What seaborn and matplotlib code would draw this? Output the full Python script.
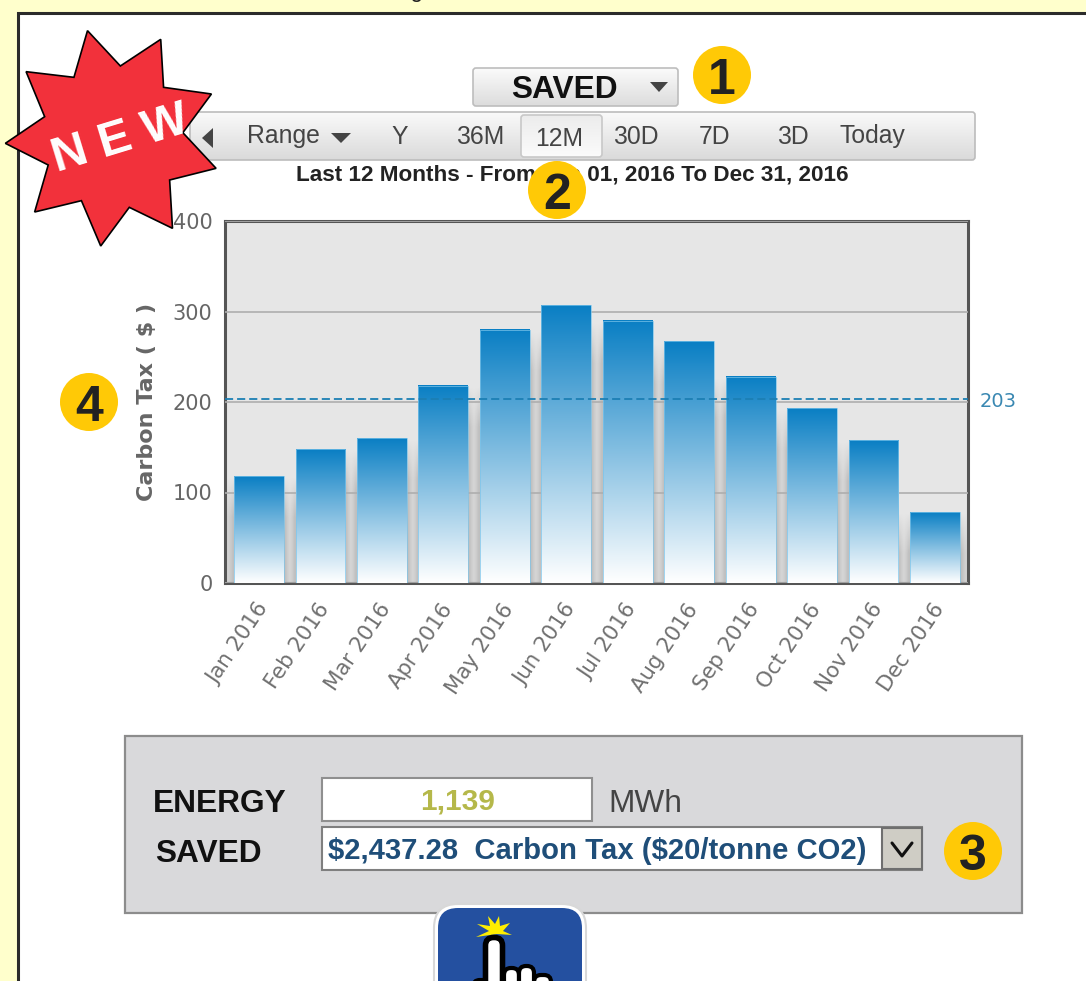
import numpy as np
import pandas as pd
import matplotlib
matplotlib.use("Agg")
import matplotlib.pyplot as plt
from matplotlib.colors import to_rgb
from matplotlib.patches import Circle, FancyBboxPatch, Polygon, Rectangle
from matplotlib.transforms import ScaledTranslation
import seaborn as sns

months = ["Jan 2016", "Feb 2016", "Mar 2016", "Apr 2016", "May 2016", "Jun 2016",
          "Jul 2016", "Aug 2016", "Sep 2016", "Oct 2016", "Nov 2016", "Dec 2016"]
carbon_tax = [118, 148, 160, 218, 280, 307, 290, 267, 228, 193, 158, 78]
average_tax = 203
y_ticks = [0, 100, 200, 300, 400]
range_buttons = ["Y", "36M", "12M", "30D", "7D", "3D", "Today"]

W, H = 1086, 981
sans = ["Liberation Sans", "DejaVu Sans"]
sns.set_theme(style="white")
plt.rcParams["font.family"] = ["DejaVu Sans"]

fig = plt.figure(figsize=(W / 100, H / 100), dpi=100, facecolor="#ffffcc")


def overlay(z):
    a = fig.add_axes([0, 0, 1, 1], zorder=z)
    a.set_xlim(0, W)
    a.set_ylim(H, 0)
    a.axis("off")
    a.set_autoscale_on(False)
    a.patch.set_alpha(0)
    return a


bg = overlay(0)
fg = overlay(2)


def vgrad(top, bottom, n=128):
    t, b = np.array(to_rgb(top)), np.array(to_rgb(bottom))
    f = np.linspace(0, 1, n)[:, None, None]
    return (1 - f) * t[None, None, :] + f * b[None, None, :]


def grad_box(a, x0, y0, x1, y1, top, bottom, edge, lw=1.2, r=3, z=2):
    p = FancyBboxPatch((x0, y0), x1 - x0, y1 - y0, boxstyle=f"round,pad=0,rounding_size={r}",
                       fc="none", ec=edge, lw=lw, zorder=z + 0.1)
    a.add_patch(p)
    im = a.imshow(vgrad(top, bottom), extent=(x0, x1, y1, y0), aspect="auto", zorder=z,
                  interpolation="bilinear")
    im.set_clip_path(p)


def gap_shadow(h):
    depth = np.linspace(0, h, 64)
    ramp = np.minimum(1, depth / 45)[:, None]
    img = np.zeros((64, 5, 4))
    img[:, :, 3] = ramp * np.array([0.17, 0.11, 0.07, 0.11, 0.17])
    return img


# page frame
bg.add_patch(Rectangle((17.5, 12.5), W, H, fc="white", ec="#2b2b2b", lw=2.2, zorder=1))
bg.text(50, -3, "Reference for Carbon Market Savings calculated", fontsize=16.5, family=sans,
        color="#222222", ha="left", va="baseline", zorder=1, clip_on=False)

# dropdown and toolbar
grad_box(bg, 473, 68, 678, 106, "#fbfbfb", "#dcdcdc", "#bdbdbd")
bg.text(564, 87, "SAVED", fontsize=22.8, fontweight="bold", family=sans, color="#111111",
        ha="center", va="center_baseline", zorder=3)
bg.add_patch(Polygon([(650, 82), (668, 82), (659, 92)], fc="#444444", ec="none", zorder=3))
grad_box(bg, 190, 112, 975, 160, "#fafafa", "#dadada", "#bcbcbc")
grad_box(bg, 521, 115, 602, 157, "#ececec", "#fbfbfb", "#c8c8c8", z=3)
bg.add_patch(Polygon([(213, 128), (213, 148), (202, 138)], fc="#444444", ec="none", zorder=3))
bg.text(247, 134, "Range", fontsize=17.8, family=sans, color="#444444", ha="left",
        va="center_baseline", zorder=4)
bg.add_patch(Polygon([(331, 133), (351, 133), (341, 143)], fc="#444444", ec="none", zorder=3))
for lab, cx in zip(range_buttons, [400, 480, 559, 636, 715, 793, 872]):
    bg.text(cx, 134 if lab != "12M" else 136, lab, fontsize=17.8, family=sans, color="#444444",
            ha="center", va="center_baseline", zorder=4)
bg.text(572.5, 173, "Last 12 Months - From Jan 01, 2016 To Dec 31, 2016", fontsize=16.2,
        fontweight="bold", family=sans, color="#222222", ha="center", va="center_baseline", zorder=3)

# chart
ax = fig.add_axes([225 / W, 1 - 583 / H, 743 / W, 362 / H], zorder=1)
df = pd.DataFrame({"month": months, "tax": carbon_tax})
sns.barplot(data=df, x="month", y="tax", width=0.81, color="#0a7fc4", saturation=1, ax=ax, zorder=3)
ax.set_xlim(-0.553, 11.537)
ax.set_ylim(0, 400)
ax.set_autoscale_on(False)
ax.set_facecolor("#e6e6e6")
ax.set_yticks(y_ticks)
ax.set_axisbelow(False)
ax.yaxis.grid(True, color="#aeaeae", lw=1.2)
ax.tick_params(axis="both", length=0)
ax.tick_params(axis="y", labelsize=15, labelcolor="#666666", pad=9)
ax.set_xticks(range(len(months)))
ax.set_xticklabels(months, rotation=56, ha="right", rotation_mode="anchor", fontsize=15.3,
                   color="#707070")
ax.tick_params(axis="x", pad=12)
shift = ScaledTranslation(-3.5 / 100, 0, fig.dpi_scale_trans)
for lab in ax.get_xticklabels():
    lab.set_transform(lab.get_transform() + shift)
ax.set_xlabel("")
ax.set_ylabel("Carbon Tax ( \\$ )", fontsize=16, fontweight="bold", color="#666666", labelpad=11)
for s in ax.spines.values():
    s.set_visible(True)
    s.set_color("#555555")
    s.set_linewidth(2.2)

bars = list(ax.patches)
for left, right in zip(bars[:-1], bars[1:]):
    h = min(left.get_height(), right.get_height())
    ax.imshow(gap_shadow(h)[::-1], extent=(left.get_x() + left.get_width(), right.get_x(), 0, h),
              aspect="auto", zorder=1.5, interpolation="bilinear", origin="lower")
for p in bars:
    x0, w, h = p.get_x(), p.get_width(), p.get_height()
    p.set_facecolor("none")
    p.set_edgecolor("#7cc4ea")
    p.set_linewidth(0.5)
    ax.imshow(vgrad("#0a7fc4", "#ffffff"), extent=(x0, x0 + w, 0, h), aspect="auto", zorder=2.7,
              interpolation="bilinear")
first, last = bars[0], bars[-1]
ax.imshow(gap_shadow(first.get_height())[::-1][:, 2:], extent=(-0.553, first.get_x(), 0, first.get_height()),
          aspect="auto", zorder=1.5, interpolation="bilinear", origin="lower")
ax.imshow(gap_shadow(last.get_height())[::-1][:, :3], extent=(last.get_x() + last.get_width(), 11.537, 0, last.get_height()),
          aspect="auto", zorder=1.5, interpolation="bilinear", origin="lower")
ax.axhline(average_tax, color="#1c7fb4", lw=1.3, ls=(0, (4.5, 2.2)), zorder=4)
ax.text(1.015, average_tax, str(average_tax), transform=ax.get_yaxis_transform(), fontsize=14,
        color="#3a88b2", ha="left", va="center_baseline")

# summary panel
fg.add_patch(Rectangle((125, 736), 897, 177, fc="#d9d9db", ec="#8c8c8c", lw=1.6, zorder=1))
fg.text(153, 800, "ENERGY", fontsize=22.8, fontweight="bold", family=sans, color="#111111",
        va="center_baseline", zorder=2)
fg.text(155, 850, "SAVED", fontsize=22.8, fontweight="bold", family=sans, color="#111111",
        va="center_baseline", zorder=2)
fg.add_patch(Rectangle((322, 778), 270, 43, fc="white", ec="#8f8f8f", lw=1.5, zorder=2))
fg.text(458, 798, "1,139", fontsize=21.5, fontweight="bold", family=sans, color="#b5b84a",
        ha="center", va="center_baseline", zorder=3)
fg.text(608, 800, "MWh", fontsize=22.8, family=sans, color="#444444", va="center_baseline", zorder=3)
fg.add_patch(Rectangle((322, 827), 600, 43, fc="white", ec="#7f7f7f", lw=1.5, zorder=2))
fg.add_patch(Rectangle((882, 828), 40, 41, fc="#cfcdc5", ec="#6f6f6f", lw=1.5, zorder=3))
fg.plot([892, 902, 912], [843, 856, 843], color="#111111", lw=2.2, zorder=4)
fg.text(328, 848, "\\$2,437.28  Carbon Tax (\\$20/tonne CO2)", fontsize=21.1, fontweight="bold",
        family=sans, color="#1f4e79", va="center_baseline", zorder=3)

# hand icon
fg.add_patch(FancyBboxPatch((434, 904), 152, 120, boxstyle="round,pad=0,rounding_size=24",
                            fc="white", ec="#d8d8d8", lw=1.5, zorder=5))
fg.add_patch(FancyBboxPatch((438, 908), 144, 120, boxstyle="round,pad=0,rounding_size=20",
                            fc="#2450a0", ec="none", zorder=6))
fg.add_patch(Polygon([(476, 937), (489, 931), (477, 924), (490, 926), (488, 916), (495, 924),
                      (499, 916), (500, 926), (510, 923), (503, 931), (512, 935), (497, 934)],
                     fc="#ffee00", ec="none", zorder=7))
for x0, y0, x1 in [(534, 975, 551), (504, 968, 519), (519, 966, 534), (473, 980, 490)]:
    fg.add_patch(FancyBboxPatch((x0, y0), x1 - x0, 40, boxstyle="round,pad=0,rounding_size=7",
                                fc="white", ec="black", lw=3, zorder=8))
fg.add_patch(FancyBboxPatch((485.5, 937.5), 17, 70, boxstyle="round,pad=0,rounding_size=8",
                            fc="white", ec="black", lw=4, zorder=9))

# NEW burst
burst = np.array([(245, 92), (337, 198), (450, 118), (458, 262), (592, 282), (512, 398), (605, 505),
                  (475, 540), (483, 685), (362, 622), (282, 738), (228, 602), (97, 636), (135, 495),
                  (15, 430), (125, 350), (73, 215), (207, 232)]) / np.array([2.8, 3.0])
fg.add_patch(Polygon(burst, fc="#f2313b", ec="black", lw=1.2, zorder=10))
fg.text(121, 140, "N E W", fontsize=35, fontweight="bold", family=sans, color="white",
        rotation=17, ha="center", va="center", rotation_mode="anchor", zorder=11)

# numbered badges
for lab, cx, cy in [("1", 722, 75), ("2", 557, 190), ("3", 973, 851), ("4", 89, 402)]:
    fg.add_patch(Circle((cx, cy), 29, fc="#ffc906", ec="none", zorder=12))
    fg.text(cx, cy + 1, lab, fontsize=36, fontweight="bold", family=sans, color="#222222",
            ha="center", va="center_baseline", zorder=13)

fig.savefig("out.png", dpi=100, facecolor=fig.get_facecolor())
